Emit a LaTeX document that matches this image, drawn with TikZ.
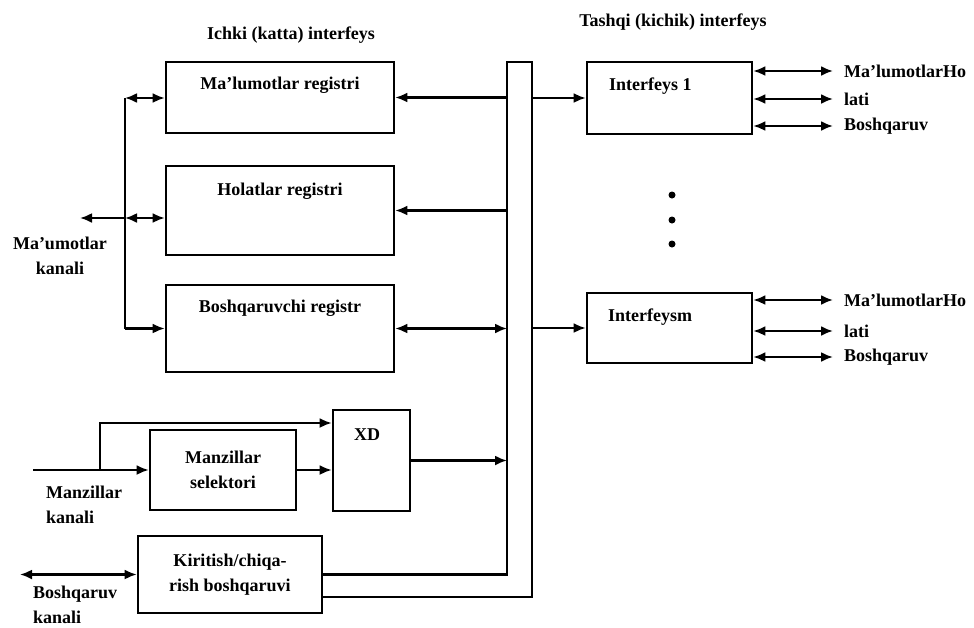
\documentclass[tikz,border=0pt]{standalone}
\usepackage{fontspec}
\setmainfont{Liberation Serif}
\usetikzlibrary{arrows.meta}
\begin{document}
\begin{tikzpicture}[x=1pt,y=-1pt,
  line width=2.2pt,
  font=\bfseries\fontsize{18}{25}\selectfont,
  >={Latex[length=12pt,width=10pt]},
  blk/.style={draw,line width=2.6pt,inner sep=0pt},
  lbl/.style={inner sep=0pt}]
\useasboundingbox (0,0) rectangle (974,627);

% headings
\node[lbl] (t1) at (291,35) {Ichki (katta) interfeys};
\node[lbl] (t2) at (673,22) {Tashqi (kichik) interfeys};

% registers
\node[blk,minimum width=228pt,minimum height=71pt] (mreg) at (280,97.5) {};
\node[lbl] (mregt) at (280,85) {Ma'lumotlar registri};
\node[blk,minimum width=228pt,minimum height=89pt] (hreg) at (280,210.5) {};
\node[lbl] (hregt) at (280,191) {Holatlar registri};
\node[blk,minimum width=228pt,minimum height=87pt] (breg) at (280,328.5) {};
\node[lbl] (bregt) at (280,308) {Boshqaruvchi registr};

% address path
\node[blk,align=center,minimum width=146pt,minimum height=80pt] (ms) at (223,470) {Manzillar\\selektori};
\node[blk,minimum width=77pt,minimum height=101pt] (xd) at (371.5,460.5) {};
\node[lbl] (xdt) at (367,435) {XD};

% i/o control
\node[blk,align=center,minimum width=184pt,minimum height=77pt] (kc) at (230,574.5) {Kiritish/chiqa-\\rish boshqaruvi};

% external interfaces
\node[blk,minimum width=165pt,minimum height=72pt] (if1) at (669.5,98) {};
\node[lbl,anchor=west] (if1t) at (608,86) {Interfeys 1};
\node[blk,minimum width=165pt,minimum height=70pt] (ifm) at (669.5,328) {};
\node[lbl,anchor=west] (ifmt) at (607,317) {Interfeysm};

% system bus
\coordinate (busTL) at (507,62);
\coordinate (busTR) at (532,62);
\draw (kc.east) -| (busTL) -- (busTR) |- ([yshift=-22.5pt]kc.east);

\draw[->] (busTL |- mreg.east) -- (mreg.east);
\draw[->] (busTL |- hreg.east) -- (hreg.east);
\draw[<->] (busTL |- breg.east) -- (breg.east);
\draw[->] (xd.east) -- (busTL |- xd.east);
\draw[->] (busTR |- if1.west) -- (if1.west);
\draw[->] (busTR |- ifm.west) -- (ifm.west);

% data channel
\coordinate (lvT) at (125,98);
\coordinate (lvM) at (125,218);
\coordinate (lvB) at (lvT |- breg.west);
\coordinate (mk) at (80,218);
\draw (lvT) -- (lvB);
\draw[<->] (lvT) -- (mreg.west |- lvT);
\draw[<->] (lvM) -- (hreg.west |- lvM);
\draw[->] (lvM) -- (mk);
\draw[->] (lvB) -- (breg.west);
\node[lbl,align=center] (mkt) at (60,256) {Ma'umotlar\\kanali};

% address channel
\coordinate (mzIn) at (33,470);
\coordinate (mzBr) at (100,470);
\draw (mzIn) -- (mzBr);
\draw[->] (mzBr) -- (ms.west);
\draw[->] (mzBr) |- ([yshift=37.5pt]xd.west);
\draw[->] (ms.east) -- (ms.east -| xd.west);
\node[lbl,align=left,anchor=west] (mzt) at (45,505) {Manzillar\\kanali};

% control channel
\coordinate (bk) at (20,574.5);
\draw[<->] (bk) -- (kc.west);
\node[lbl,align=left,anchor=west] (bkt) at (32,605) {Boshqaruv\\kanali};

% interface outputs
\foreach \yy/\t [count=\i] in {71/{Ma'lumotlarHo},99/lati,126/Boshqaruv}{
  \coordinate (a\i) at (833,\yy);
  \draw[<->] (if1.east |- a\i) -- (a\i);
  \node[lbl,anchor=west] (ta\i) at (843,\yy) {\t};
}
\foreach \yy/\t [count=\i] in {300/{Ma'lumotlarHo},331/lati,357/Boshqaruv}{
  \coordinate (b\i) at (833,\yy);
  \draw[<->] (ifm.east |- b\i) -- (b\i);
  \node[lbl,anchor=west] (tb\i) at (843,\yy) {\t};
}

% ellipsis between interfaces
\fill (672,195) circle (3.5);
\fill (672,220) circle (3.5);
\fill (672,244) circle (3.5);
\end{tikzpicture}
\end{document}
